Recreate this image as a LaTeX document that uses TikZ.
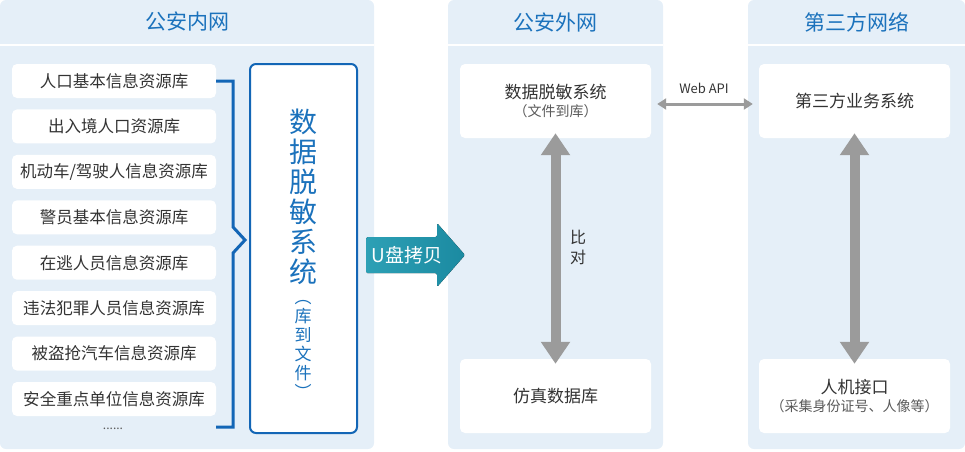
\documentclass[tikz,border=0pt]{standalone}
\usepackage{fontspec}
\setmainfont{Noto Sans CJK SC}
\usetikzlibrary{calc,positioning,arrows.meta}
\definecolor{fond}{HTML}{E5EFF8}
\definecolor{bleuT}{HTML}{1B72BC}
\definecolor{bleuC}{HTML}{1366B6}
\definecolor{texte}{HTML}{333333}
\definecolor{grisT}{HTML}{5A5A5A}
\definecolor{gris}{HTML}{9B9B9B}
\definecolor{sarcA}{HTML}{2DA0B5}
\definecolor{sarcB}{HTML}{1B8AA1}
\newcommand{\petitf}{\fontsize{14}{16}\selectfont\color{grisT}}
\tikzset{
    titre/.style={font=\fontsize{21}{24}\selectfont,text=bleuT},
    base/.style={fill=white,rounded corners=5pt,minimum width=204pt,minimum height=34pt,
      inner sep=0pt,font=\fontsize{16.5}{20}\selectfont,text=texte},
    boite/.style={fill=white,rounded corners=5pt,minimum width=191pt,minimum height=74pt,
      inner sep=0pt,align=center,text=texte,font=\fontsize{17}{20}\selectfont},
    fleche/.style={draw=gris,line width=10pt,shorten <=-5pt,shorten >=-5pt,
      {Triangle[width=28pt,length=22pt]}-{Triangle[width=28pt,length=22pt]}},
  }
\begin{document}
\begin{tikzpicture}[x=1pt,y=-1pt]
				  \useasboundingbox (0,0) rectangle (965,451);
				  %PANNEAUX
				  \fill[fond,rounded corners=6pt] (0,0) rectangle (374,449);
				  \fill[fond,rounded corners=6pt] (448,0) rectangle (663,449);
				  \fill[fond,rounded corners=6pt] (748,0) rectangle (965,449);
				  \draw[white,line width=2pt] (0,45) -- (374,45) (448,45) -- (663,45) (748,45) -- (965,45);
				  \node[titre] (h1) at (187,22) {公安内网};
				  \node[titre] (h2) at (555.5,22) {公安外网};
				  \node[titre] (h3) at (856.5,22) {第三方网络};
				  %BASES
				  \foreach \nom [count=\i] in {人口基本信息资源库,出入境人口资源库,机动车/驾驶人信息资源库,警员基本信息资源库,在逃人员信息资源库,违法犯罪人员信息资源库,被盗抢汽车信息资源库,安全重点单位信息资源库}
				    \node[base] (b\i) at (114,{81+45.43*(\i-1)}) {\nom};
				  \node[font=\fontsize{12}{14}\selectfont,text=grisT] (etc) at (113,429) {......};
				  %Accolade
				  \coordinate (accF) at (216,427);
				  \draw[bleuC,line width=3pt] (b1.east) -- (233,81) -- (233,227) -- (245,240) -- (233,253) -- (233,427) -- (accF);
				  %Systeme de desensibilisation
				  \node[draw=bleuC,line width=2pt,fill=white,rounded corners=6pt,minimum width=107pt,minimum height=369pt] (dm) at (303.5,248.5) {};
				  \node[font=\fontsize{28}{30}\selectfont,text=bleuT,align=center,inner sep=0pt] (dmT) at (303,197) {数\\据\\脱\\敏\\系\\统};
				  \node[font=\fontsize{17}{19}\selectfont,text=bleuT,align=center,inner sep=0pt] (dmS) at (303,349) {︵\\库\\到\\文\\件\\︶};
				  %U disque
				  \fill[left color=sarcA,right color=sarcB,rounded corners=1.5pt] (366,237) -- (437,237) -- (437,223) -- (465,255) -- (437,287) -- (437,273) -- (366,273) -- cycle;
				  \node[font=\fontsize{19}{22}\selectfont,text=white] (usb) at (407,255) {U盘拷贝};
				  %RESEAU EXTERNE
				  \node[boite] (dmA) at (555.5,101) {数据脱敏系统\\[-2pt]{\petitf（文件到库）}};
				  \node[boite] (sim) at (555.5,396) {仿真数据库};
				  \draw[fleche] (dmA.south) -- (sim.north);
				  \node[font=\fontsize{16}{20}\selectfont,text=texte,align=center,inner sep=0pt] (cmp) at (578,247) {比\\对};
				  %TIERS
				  \node[boite] (tpA) at (854.5,101) {第三方业务系统};
				  \node[boite] (hmi) at (854.5,396) {人机接口\\[-2pt]{\petitf（采集身份证号、人像等）}};
				  \draw[fleche] (tpA.south) -- (hmi.north);
				  %Web API
				  \draw[gris,line width=3pt,shorten <=6pt,shorten >=6pt,{Triangle[width=11pt,length=9pt]}-{Triangle[width=11pt,length=9pt]}] ([yshift=-3pt]dmA.east) -- ([yshift=-3pt]tpA.west);
				  \node[font=\fontsize{13}{15}\selectfont,text=texte] (api) at (704,88) {Web API};
\end{tikzpicture}
\end{document}
